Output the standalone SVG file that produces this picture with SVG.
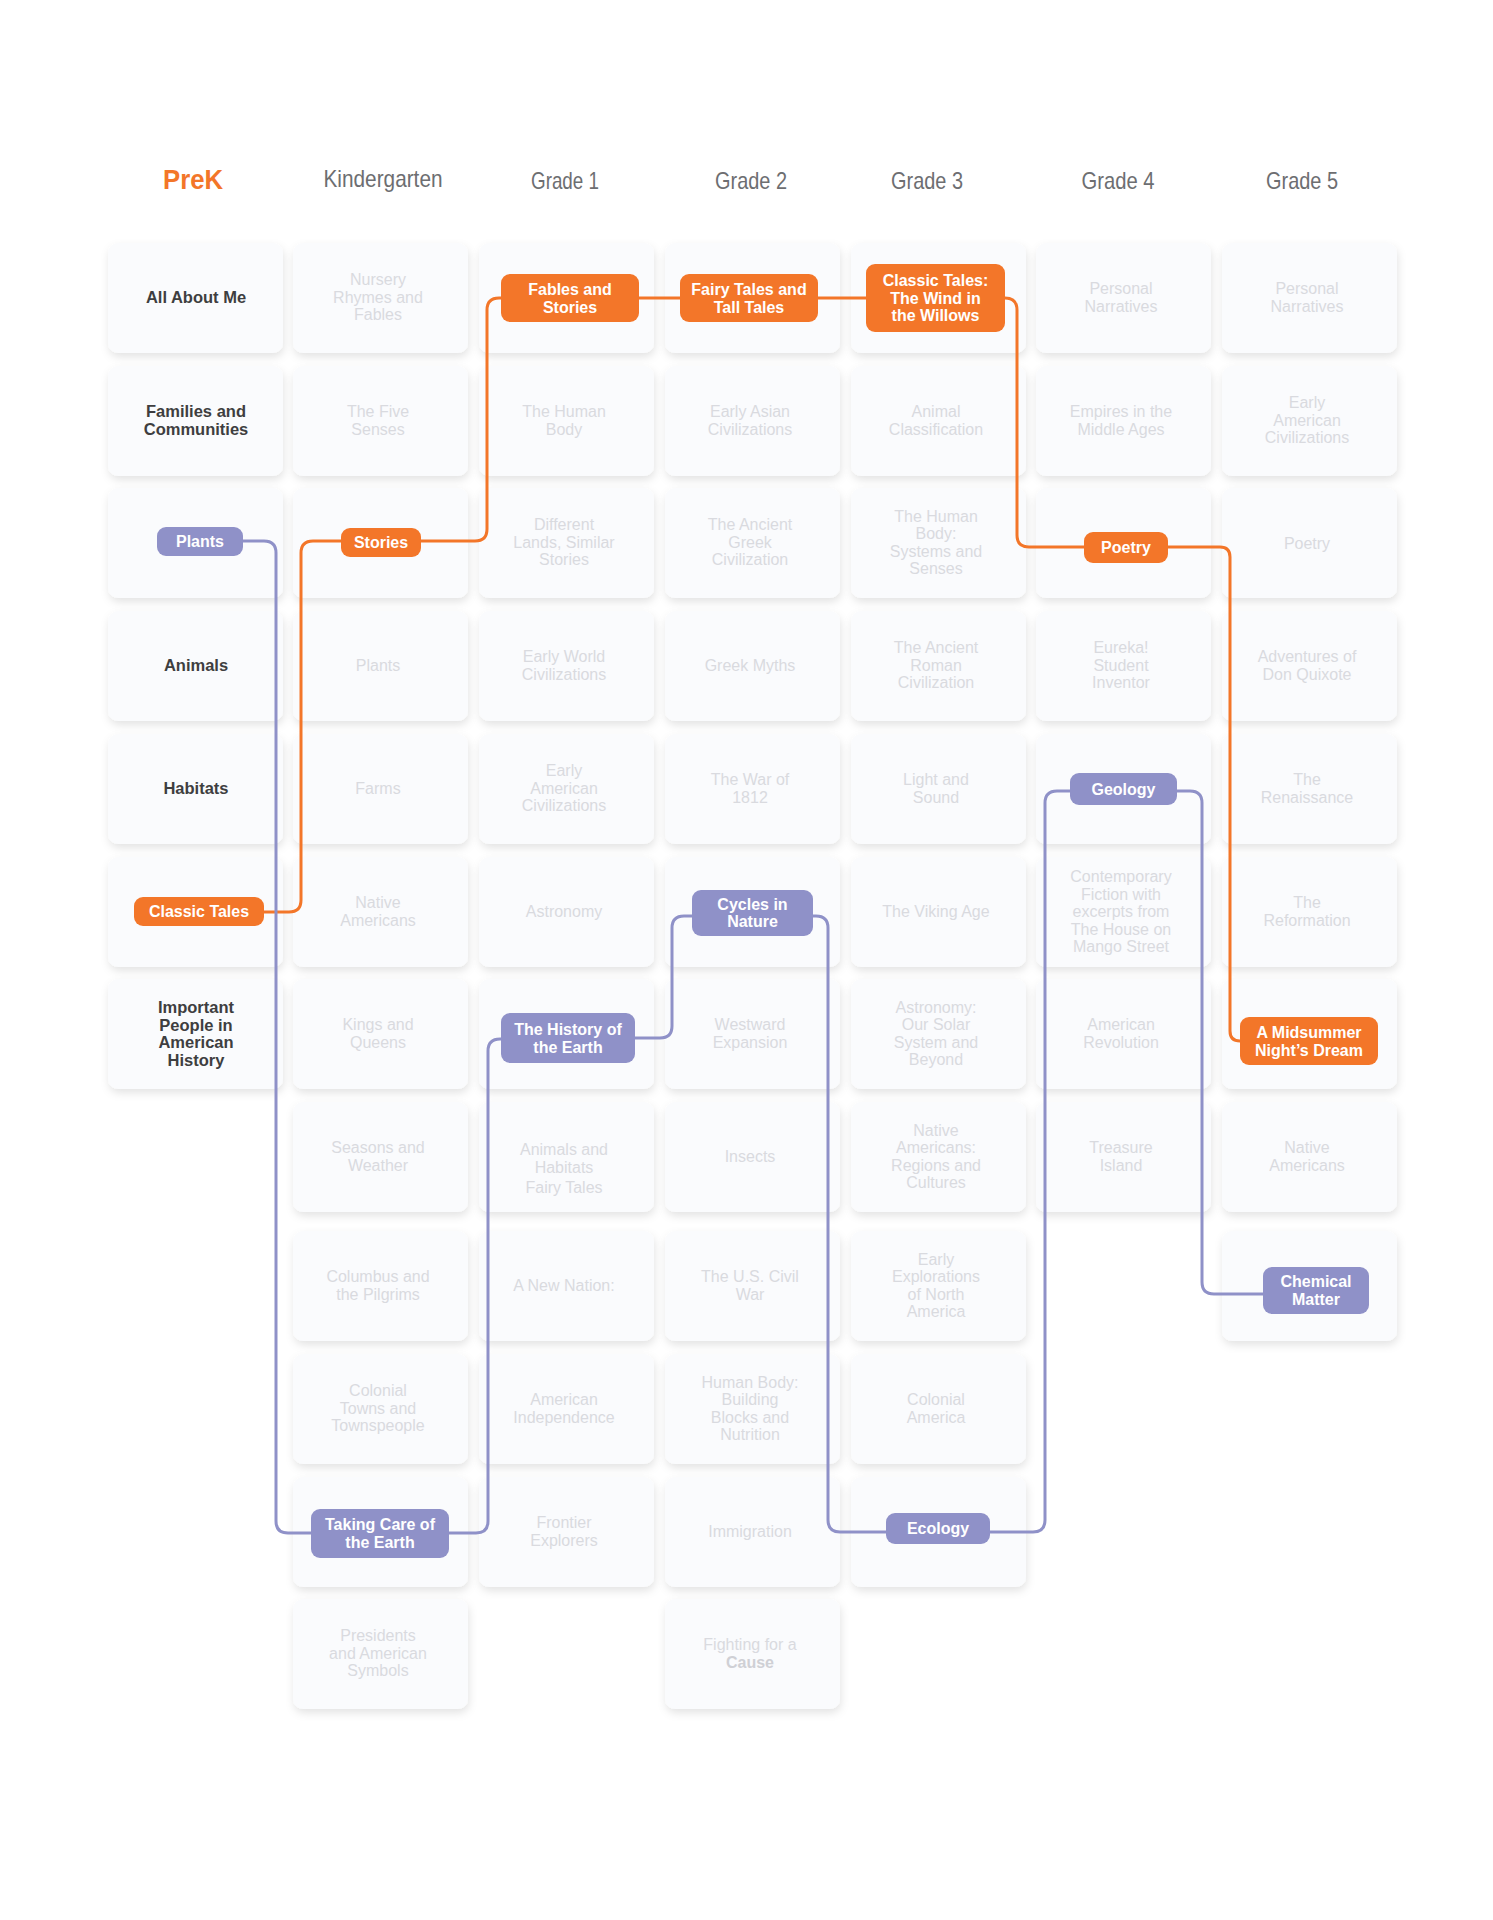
<svg xmlns="http://www.w3.org/2000/svg" width="1493" height="1920" viewBox="0 0 1493 1920">
<defs>
<filter id="sh" x="-20%" y="-20%" width="140%" height="150%">
<feDropShadow dx="1" dy="4" stdDeviation="4" flood-color="#000" flood-opacity="0.11"/>
</filter>
<style>
text{font-family:'Liberation Sans',Arial,sans-serif;text-anchor:middle}
.card{fill:#fafbfd;filter:url(#sh)}
.g{font-size:16px;fill:#d9dadf}
.gb{font-size:16px;fill:#cfd0d5;font-weight:bold}
.b{font-size:16.5px;font-weight:bold;fill:#3e3e40}
.pt{font-size:16px;font-weight:bold;fill:#ffffff}
.po{fill:#f37629}
.pp{fill:#8f91c8}
.h{font-size:24px;fill:#6d6e71}
.hk{font-size:28px;font-weight:bold;fill:#f37629}
.co{fill:none;stroke:#f37629;stroke-width:3}
.cp{fill:none;stroke:#8f91c8;stroke-width:3}
</style>
</defs>
<rect width="1493" height="1920" fill="#ffffff"/>
<g id="headers">
<text class="hk" x="193" y="189" textLength="60" lengthAdjust="spacingAndGlyphs">PreK</text>
<text class="h" x="383" y="187" textLength="119" lengthAdjust="spacingAndGlyphs">Kindergarten</text>
<text class="h" x="565" y="189" textLength="68" lengthAdjust="spacingAndGlyphs">Grade 1</text>
<text class="h" x="751" y="189" textLength="72" lengthAdjust="spacingAndGlyphs">Grade 2</text>
<text class="h" x="927" y="189" textLength="72" lengthAdjust="spacingAndGlyphs">Grade 3</text>
<text class="h" x="1118" y="189" textLength="73" lengthAdjust="spacingAndGlyphs">Grade 4</text>
<text class="h" x="1302" y="189" textLength="72" lengthAdjust="spacingAndGlyphs">Grade 5</text>
</g>
<!-- PreK -->
<g id="prek-1"><rect class="card" x="108" y="243" width="175" height="110" rx="10"/><text class="b" x="196" y="303">All About Me</text></g>
<g id="prek-2"><rect class="card" x="108" y="366" width="175" height="110" rx="10"/><text class="b" x="196" y="417">Families and<tspan x="196" dy="17.5">Communities</tspan></text></g>
<g id="prek-3"><rect class="card" x="108" y="488" width="175" height="110" rx="10"/></g>
<g id="prek-4"><rect class="card" x="108" y="611" width="175" height="110" rx="10"/><text class="b" x="196" y="671">Animals</text></g>
<g id="prek-5"><rect class="card" x="108" y="734" width="175" height="110" rx="10"/><text class="b" x="196" y="794">Habitats</text></g>
<g id="prek-6"><rect class="card" x="108" y="857" width="175" height="110" rx="10"/></g>
<g id="prek-7"><rect class="card" x="108" y="979" width="175" height="110" rx="10"/><text class="b" x="196" y="1013">Important<tspan x="196" dy="17.5">People in</tspan><tspan x="196" dy="17.5">American</tspan><tspan x="196" dy="17.5">History</tspan></text></g>
<!-- Kindergarten -->
<g id="k-1"><rect class="card" x="293" y="243" width="175" height="110" rx="10"/><text class="g" x="378" y="285">Nursery<tspan x="378" dy="17.5">Rhymes and</tspan><tspan x="378" dy="17.5">Fables</tspan></text></g>
<g id="k-2"><rect class="card" x="293" y="366" width="175" height="110" rx="10"/><text class="g" x="378" y="417">The Five<tspan x="378" dy="17.5">Senses</tspan></text></g>
<g id="k-3"><rect class="card" x="293" y="488" width="175" height="110" rx="10"/></g>
<g id="k-4"><rect class="card" x="293" y="611" width="175" height="110" rx="10"/><text class="g" x="378" y="671">Plants</text></g>
<g id="k-5"><rect class="card" x="293" y="734" width="175" height="110" rx="10"/><text class="g" x="378" y="794">Farms</text></g>
<g id="k-6"><rect class="card" x="293" y="857" width="175" height="110" rx="10"/><text class="g" x="378" y="908">Native<tspan x="378" dy="17.5">Americans</tspan></text></g>
<g id="k-7"><rect class="card" x="293" y="979" width="175" height="110" rx="10"/><text class="g" x="378" y="1030">Kings and<tspan x="378" dy="17.5">Queens</tspan></text></g>
<g id="k-8"><rect class="card" x="293" y="1102" width="175" height="110" rx="10"/><text class="g" x="378" y="1153">Seasons and<tspan x="378" dy="17.5">Weather</tspan></text></g>
<g id="k-9"><rect class="card" x="293" y="1231" width="175" height="110" rx="10"/><text class="g" x="378" y="1282">Columbus and<tspan x="378" dy="17.5">the Pilgrims</tspan></text></g>
<g id="k-10"><rect class="card" x="293" y="1354" width="175" height="110" rx="10"/><text class="g" x="378" y="1396">Colonial<tspan x="378" dy="17.5">Towns and</tspan><tspan x="378" dy="17.5">Townspeople</tspan></text></g>
<g id="k-11"><rect class="card" x="293" y="1477" width="175" height="110" rx="10"/></g>
<g id="k-12"><rect class="card" x="293" y="1599" width="175" height="110" rx="10"/><text class="g" x="378" y="1641">Presidents<tspan x="378" dy="17.5">and American</tspan><tspan x="378" dy="17.5">Symbols</tspan></text></g>
<!-- Grade 1 -->
<g id="g1-1"><rect class="card" x="479" y="243" width="175" height="110" rx="10"/></g>
<g id="g1-2"><rect class="card" x="479" y="366" width="175" height="110" rx="10"/><text class="g" x="564" y="417">The Human<tspan x="564" dy="17.5">Body</tspan></text></g>
<g id="g1-3"><rect class="card" x="479" y="488" width="175" height="110" rx="10"/><text class="g" x="564" y="530">Different<tspan x="564" dy="17.5">Lands, Similar</tspan><tspan x="564" dy="17.5">Stories</tspan></text></g>
<g id="g1-4"><rect class="card" x="479" y="611" width="175" height="110" rx="10"/><text class="g" x="564" y="662">Early World<tspan x="564" dy="17.5">Civilizations</tspan></text></g>
<g id="g1-5"><rect class="card" x="479" y="734" width="175" height="110" rx="10"/><text class="g" x="564" y="776">Early<tspan x="564" dy="17.5">American</tspan><tspan x="564" dy="17.5">Civilizations</tspan></text></g>
<g id="g1-6"><rect class="card" x="479" y="857" width="175" height="110" rx="10"/><text class="g" x="564" y="917">Astronomy</text></g>
<g id="g1-7"><rect class="card" x="479" y="979" width="175" height="110" rx="10"/></g>
<g id="g1-8"><rect class="card" x="479" y="1102" width="175" height="110" rx="10"/><text class="g" x="564" y="1155">Animals and<tspan x="564" dy="18">Habitats</tspan><tspan x="564" dy="20">Fairy Tales</tspan></text></g>
<g id="g1-9"><rect class="card" x="479" y="1231" width="175" height="110" rx="10"/><text class="g" x="564" y="1291">A New Nation:</text></g>
<g id="g1-10"><rect class="card" x="479" y="1354" width="175" height="110" rx="10"/><text class="g" x="564" y="1405">American<tspan x="564" dy="17.5">Independence</tspan></text></g>
<g id="g1-11"><rect class="card" x="479" y="1477" width="175" height="110" rx="10"/><text class="g" x="564" y="1528">Frontier<tspan x="564" dy="17.5">Explorers</tspan></text></g>
<!-- Grade 2 -->
<g id="g2-1"><rect class="card" x="665" y="243" width="175" height="110" rx="10"/></g>
<g id="g2-2"><rect class="card" x="665" y="366" width="175" height="110" rx="10"/><text class="g" x="750" y="417">Early Asian<tspan x="750" dy="17.5">Civilizations</tspan></text></g>
<g id="g2-3"><rect class="card" x="665" y="488" width="175" height="110" rx="10"/><text class="g" x="750" y="530">The Ancient<tspan x="750" dy="17.5">Greek</tspan><tspan x="750" dy="17.5">Civilization</tspan></text></g>
<g id="g2-4"><rect class="card" x="665" y="611" width="175" height="110" rx="10"/><text class="g" x="750" y="671">Greek Myths</text></g>
<g id="g2-5"><rect class="card" x="665" y="734" width="175" height="110" rx="10"/><text class="g" x="750" y="785">The War of<tspan x="750" dy="17.5">1812</tspan></text></g>
<g id="g2-6"><rect class="card" x="665" y="857" width="175" height="110" rx="10"/></g>
<g id="g2-7"><rect class="card" x="665" y="979" width="175" height="110" rx="10"/><text class="g" x="750" y="1030">Westward<tspan x="750" dy="17.5">Expansion</tspan></text></g>
<g id="g2-8"><rect class="card" x="665" y="1102" width="175" height="110" rx="10"/><text class="g" x="750" y="1162">Insects</text></g>
<g id="g2-9"><rect class="card" x="665" y="1231" width="175" height="110" rx="10"/><text class="g" x="750" y="1282">The U.S. Civil<tspan x="750" dy="17.5">War</tspan></text></g>
<g id="g2-10"><rect class="card" x="665" y="1354" width="175" height="110" rx="10"/><text class="g" x="750" y="1387.5">Human Body:<tspan x="750" dy="17.5">Building</tspan><tspan x="750" dy="17.5">Blocks and</tspan><tspan x="750" dy="17.5">Nutrition</tspan></text></g>
<g id="g2-11"><rect class="card" x="665" y="1477" width="175" height="110" rx="10"/><text class="g" x="750" y="1537">Immigration</text></g>
<g id="g2-12"><rect class="card" x="665" y="1599" width="175" height="110" rx="10"/><text class="g" x="750" y="1650">Fighting for a</text><text class="gb" x="750" y="1667.5">Cause</text></g>
<!-- Grade 3 -->
<g id="g3-1"><rect class="card" x="851" y="243" width="175" height="110" rx="10"/></g>
<g id="g3-2"><rect class="card" x="851" y="366" width="175" height="110" rx="10"/><text class="g" x="936" y="417">Animal<tspan x="936" dy="17.5">Classification</tspan></text></g>
<g id="g3-3"><rect class="card" x="851" y="488" width="175" height="110" rx="10"/><text class="g" x="936" y="521.5">The Human<tspan x="936" dy="17.5">Body:</tspan><tspan x="936" dy="17.5">Systems and</tspan><tspan x="936" dy="17.5">Senses</tspan></text></g>
<g id="g3-4"><rect class="card" x="851" y="611" width="175" height="110" rx="10"/><text class="g" x="936" y="653">The Ancient<tspan x="936" dy="17.5">Roman</tspan><tspan x="936" dy="17.5">Civilization</tspan></text></g>
<g id="g3-5"><rect class="card" x="851" y="734" width="175" height="110" rx="10"/><text class="g" x="936" y="785">Light and<tspan x="936" dy="17.5">Sound</tspan></text></g>
<g id="g3-6"><rect class="card" x="851" y="857" width="175" height="110" rx="10"/><text class="g" x="936" y="917">The Viking Age</text></g>
<g id="g3-7"><rect class="card" x="851" y="979" width="175" height="110" rx="10"/><text class="g" x="936" y="1012.5">Astronomy:<tspan x="936" dy="17.5">Our Solar</tspan><tspan x="936" dy="17.5">System and</tspan><tspan x="936" dy="17.5">Beyond</tspan></text></g>
<g id="g3-8"><rect class="card" x="851" y="1102" width="175" height="110" rx="10"/><text class="g" x="936" y="1135.5">Native<tspan x="936" dy="17.5">Americans:</tspan><tspan x="936" dy="17.5">Regions and</tspan><tspan x="936" dy="17.5">Cultures</tspan></text></g>
<g id="g3-9"><rect class="card" x="851" y="1231" width="175" height="110" rx="10"/><text class="g" x="936" y="1264.5">Early<tspan x="936" dy="17.5">Explorations</tspan><tspan x="936" dy="17.5">of North</tspan><tspan x="936" dy="17.5">America</tspan></text></g>
<g id="g3-10"><rect class="card" x="851" y="1354" width="175" height="110" rx="10"/><text class="g" x="936" y="1405">Colonial<tspan x="936" dy="17.5">America</tspan></text></g>
<g id="g3-11"><rect class="card" x="851" y="1477" width="175" height="110" rx="10"/></g>
<!-- Grade 4 -->
<g id="g4-1"><rect class="card" x="1036" y="243" width="175" height="110" rx="10"/><text class="g" x="1121" y="294">Personal<tspan x="1121" dy="17.5">Narratives</tspan></text></g>
<g id="g4-2"><rect class="card" x="1036" y="366" width="175" height="110" rx="10"/><text class="g" x="1121" y="417">Empires in the<tspan x="1121" dy="17.5">Middle Ages</tspan></text></g>
<g id="g4-3"><rect class="card" x="1036" y="488" width="175" height="110" rx="10"/></g>
<g id="g4-4"><rect class="card" x="1036" y="611" width="175" height="110" rx="10"/><text class="g" x="1121" y="653">Eureka!<tspan x="1121" dy="17.5">Student</tspan><tspan x="1121" dy="17.5">Inventor</tspan></text></g>
<g id="g4-5"><rect class="card" x="1036" y="734" width="175" height="110" rx="10"/></g>
<g id="g4-6"><rect class="card" x="1036" y="857" width="175" height="110" rx="10"/><text class="g" x="1121" y="882">Contemporary<tspan x="1121" dy="17.5">Fiction with</tspan><tspan x="1121" dy="17.5">excerpts from</tspan><tspan x="1121" dy="17.5">The House on</tspan><tspan x="1121" dy="17.5">Mango Street</tspan></text></g>
<g id="g4-7"><rect class="card" x="1036" y="979" width="175" height="110" rx="10"/><text class="g" x="1121" y="1030">American<tspan x="1121" dy="17.5">Revolution</tspan></text></g>
<g id="g4-8"><rect class="card" x="1036" y="1102" width="175" height="110" rx="10"/><text class="g" x="1121" y="1153">Treasure<tspan x="1121" dy="17.5">Island</tspan></text></g>
<!-- Grade 5 -->
<g id="g5-1"><rect class="card" x="1222" y="243" width="175" height="110" rx="10"/><text class="g" x="1307" y="294">Personal<tspan x="1307" dy="17.5">Narratives</tspan></text></g>
<g id="g5-2"><rect class="card" x="1222" y="366" width="175" height="110" rx="10"/><text class="g" x="1307" y="408">Early<tspan x="1307" dy="17.5">American</tspan><tspan x="1307" dy="17.5">Civilizations</tspan></text></g>
<g id="g5-3"><rect class="card" x="1222" y="488" width="175" height="110" rx="10"/><text class="g" x="1307" y="549">Poetry</text></g>
<g id="g5-4"><rect class="card" x="1222" y="611" width="175" height="110" rx="10"/><text class="g" x="1307" y="662">Adventures of<tspan x="1307" dy="17.5">Don Quixote</tspan></text></g>
<g id="g5-5"><rect class="card" x="1222" y="734" width="175" height="110" rx="10"/><text class="g" x="1307" y="785">The<tspan x="1307" dy="17.5">Renaissance</tspan></text></g>
<g id="g5-6"><rect class="card" x="1222" y="857" width="175" height="110" rx="10"/><text class="g" x="1307" y="908">The<tspan x="1307" dy="17.5">Reformation</tspan></text></g>
<g id="g5-7"><rect class="card" x="1222" y="979" width="175" height="110" rx="10"/></g>
<g id="g5-8"><rect class="card" x="1222" y="1102" width="175" height="110" rx="10"/><text class="g" x="1307" y="1153">Native<tspan x="1307" dy="17.5">Americans</tspan></text></g>
<g id="g5-9"><rect class="card" x="1222" y="1231" width="175" height="110" rx="10"/></g>
<!-- Connectors -->
<g id="connectors">
<path class="co" d="M264,912 H289 Q301,912 301,900 V553 Q301,541 313,541 H341"/>
<path class="co" d="M421,541 H475 Q487,541 487,529 V310 Q487,298 499,298 H503"/>
<path class="co" d="M637,298 H682"/>
<path class="co" d="M816,298 H868"/>
<path class="co" d="M1003,298 H1005 Q1017,298 1017,310 V535 Q1017,547 1029,547 H1086"/>
<path class="co" d="M1166,547 H1220 Q1230,547 1230,557 V1031 Q1230,1041 1240,1041 H1242"/>
<path class="cp" d="M241,541 H264 Q276,541 276,553 V1521 Q276,1533 288,1533 H313"/>
<path class="cp" d="M447,1533 H476 Q488,1533 488,1521 V1051 Q488,1039 500,1039 H503"/>
<path class="cp" d="M633,1038 H660 Q672,1038 672,1026 V928 Q672,916 684,916 H694"/>
<path class="cp" d="M811,916 H816 Q828,916 828,928 V1520 Q828,1532 840,1532 H888"/>
<path class="cp" d="M988,1532 H1033 Q1045,1532 1045,1520 V803 Q1045,791 1057,791 H1072"/>
<path class="cp" d="M1175,791 H1190 Q1202,791 1202,803 V1282 Q1202,1294 1214,1294 H1265"/>
</g>
<!-- Pills -->
<g id="n-fables"><rect class="po" x="501" y="274" width="138" height="48" rx="9"/><text class="pt" x="570" y="295">Fables and<tspan x="570" dy="17.5">Stories</tspan></text></g>
<g id="n-fairy"><rect class="po" x="680" y="274" width="138" height="48" rx="9"/><text class="pt" x="749" y="295">Fairy Tales and<tspan x="749" dy="17.5">Tall Tales</tspan></text></g>
<g id="n-willows"><rect class="po" x="866" y="264" width="139" height="68" rx="9"/><text class="pt" x="935.5" y="286">Classic Tales:<tspan x="935.5" dy="17.5">The Wind in</tspan><tspan x="935.5" dy="17.5">the Willows</tspan></text></g>
<g id="n-plants"><rect class="pp" x="157" y="527" width="86" height="29" rx="9"/><text class="pt" x="200" y="547">Plants</text></g>
<g id="n-stories"><rect class="po" x="341" y="528" width="80" height="29" rx="9"/><text class="pt" x="381" y="548">Stories</text></g>
<g id="n-poetry"><rect class="po" x="1084" y="532" width="84" height="31" rx="9"/><text class="pt" x="1126" y="553">Poetry</text></g>
<g id="n-geology"><rect class="pp" x="1070" y="773" width="107" height="32" rx="9"/><text class="pt" x="1123.5" y="795">Geology</text></g>
<g id="n-classic"><rect class="po" x="134" y="897" width="130" height="29" rx="9"/><text class="pt" x="199" y="917">Classic Tales</text></g>
<g id="n-history"><rect class="pp" x="501" y="1013" width="134" height="50" rx="9"/><text class="pt" x="568" y="1035">The History of<tspan x="568" dy="17.5">the Earth</tspan></text></g>
<g id="n-cycles"><rect class="pp" x="692" y="890" width="121" height="46" rx="9"/><text class="pt" x="752.5" y="909.5">Cycles in<tspan x="752.5" dy="17.5">Nature</tspan></text></g>
<g id="n-midsummer"><rect class="po" x="1240" y="1017" width="138" height="48" rx="9"/><text class="pt" x="1309" y="1038">A Midsummer<tspan x="1309" dy="17.5">Night’s Dream</tspan></text></g>
<g id="n-chemical"><rect class="pp" x="1263" y="1267" width="106" height="47" rx="9"/><text class="pt" x="1316" y="1287">Chemical<tspan x="1316" dy="17.5">Matter</tspan></text></g>
<g id="n-takingcare"><rect class="pp" x="311" y="1509" width="138" height="49" rx="9"/><text class="pt" x="380" y="1530">Taking Care of<tspan x="380" dy="17.5">the Earth</tspan></text></g>
<g id="n-ecology"><rect class="pp" x="886" y="1513" width="104" height="31" rx="9"/><text class="pt" x="938" y="1534">Ecology</text></g>
</svg>
